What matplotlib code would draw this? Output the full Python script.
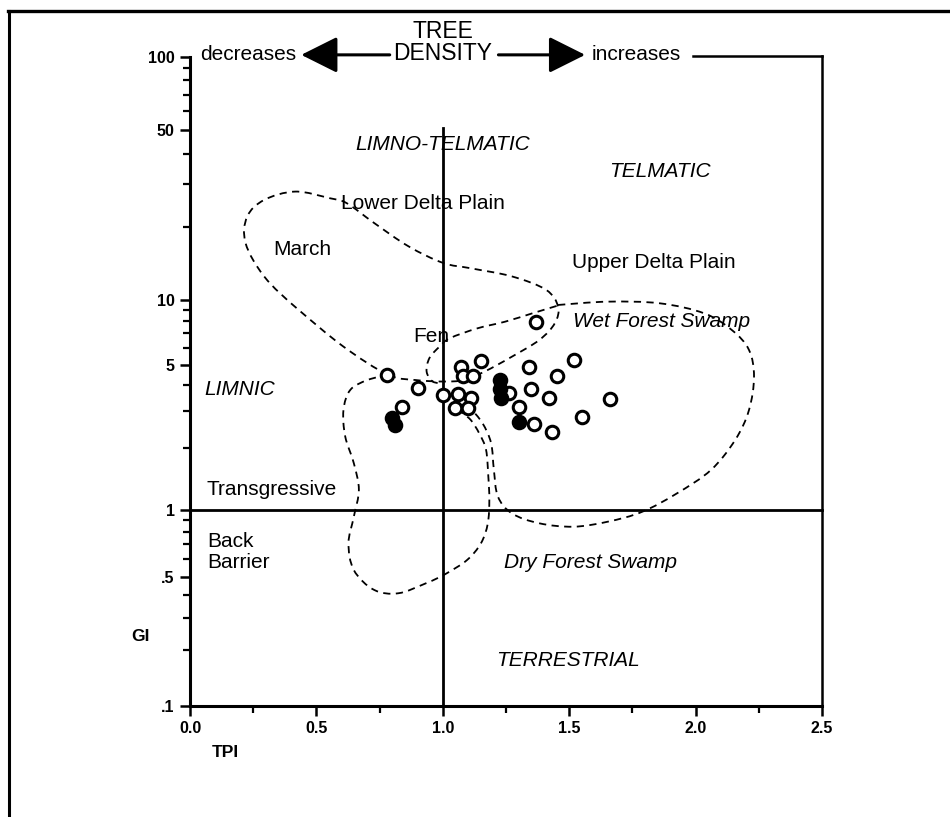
import numpy as np
import matplotlib
matplotlib.use('Agg')
import matplotlib.pyplot as plt
from matplotlib.path import Path
from matplotlib.patches import PathPatch
from matplotlib.lines import Line2D
from matplotlib.ticker import FixedLocator, FixedFormatter, NullFormatter

plt.rcParams['font.family'] = ['Liberation Sans', 'DejaVu Sans']

# samples (TPI, GI)
open_tpi = [0.78, 0.90, 0.84, 1.00, 1.07, 1.08, 1.12, 1.15, 1.06, 1.11, 1.05, 1.10,
            1.37, 1.34, 1.52, 1.45, 1.35, 1.42, 1.66, 1.30, 1.36, 1.55, 1.43, 1.26]
open_gi = [4.48, 3.88, 3.14, 3.58, 4.89, 4.43, 4.43, 5.22, 3.62, 3.47, 3.10, 3.10,
           7.91, 4.89, 5.27, 4.43, 3.83, 3.47, 3.43, 3.14, 2.60, 2.81, 2.38, 3.66]
filled_tpi = [0.80, 0.81, 1.225, 1.228, 1.23, 1.30]
filled_gi = [2.78, 2.57, 4.23, 3.83, 3.47, 2.66]

# facies outlines
march_tpi = [0.784, 0.607, 0.430, 0.294, 0.220, 0.226, 0.294, 0.417, 0.553, 0.620, 0.729,
             0.865, 1.001, 1.110, 1.273, 1.409, 1.456, 1.443, 1.382, 1.273, 1.164, 1.083,
             1.001, 0.892]
march_gi = [4.48, 6.08, 8.99, 12.47, 17.1, 22.0, 25.8, 27.9, 26.2, 25.0, 20.7,
            16.6, 14.2, 13.5, 12.5, 11.0, 9.31, 7.80, 6.53, 5.46, 4.64, 4.23,
            4.16, 4.23]
fen_tpi = [1.450, 1.354, 1.246, 1.137, 1.028, 0.987, 0.947, 0.936, 0.960, 1.001]
fen_gi = [9.38, 8.67, 7.93, 7.39, 6.65, 6.08, 5.38, 4.64, 4.16, 4.08]
wet_tpi = [1.456, 1.653, 1.858, 2.034, 2.143, 2.211, 2.231, 2.211, 2.157, 2.061, 1.925,
           1.790, 1.653, 1.517, 1.382, 1.273, 1.218, 1.202, 1.191, 1.157, 1.110]
wet_gi = [9.48, 9.82, 9.65, 8.67, 7.26, 5.87, 4.39, 3.03, 2.18, 1.56, 1.20,
          0.983, 0.886, 0.841, 0.871, 0.966, 1.16, 1.56, 2.10, 2.62, 3.09]
back_tpi = [0.784, 0.702, 0.634, 0.607, 0.614, 0.648, 0.668, 0.648, 0.627, 0.648, 0.729,
            0.824, 0.933, 1.015, 1.096, 1.151, 1.178, 1.184, 1.180, 1.171, 1.144, 1.110,
            1.069]
back_gi = [4.48, 4.23, 3.79, 3.03, 2.26, 1.68, 1.25, 0.933, 0.709, 0.537, 0.425,
           0.408, 0.462, 0.519, 0.596, 0.709, 0.871, 1.12, 1.45, 1.95, 2.34, 2.72,
           2.98]

labels = [
    ('LIMNO-TELMATIC', 1.0, 43.4, 'italic'),
    ('TELMATIC', 1.859, 33.6, 'italic'),
    ('Lower Delta Plain', 0.922, 25.0, 'normal'),
    ('March', 0.443, 16.1, 'normal'),
    ('Upper Delta Plain', 1.835, 14.2, 'normal'),
    ('Wet Forest Swamp', 1.867, 7.91, 'italic'),
    ('Fen', 0.953, 6.75, 'normal'),
    ('LIMNIC', 0.198, 3.79, 'italic'),
    ('Transgressive', 0.324, 1.25, 'normal'),
    ('Dry Forest Swamp', 1.586, 0.578, 'italic'),
    ('TERRESTRIAL', 1.495, 0.177, 'italic'),
]

ytick_major = [0.1, 0.5, 1, 5, 10, 50, 100]
ytick_labels = ['.1', '.5', '1', '5', '10', '50', '100']
ytick_minor = [0.2, 0.3, 0.4, 0.6, 0.7, 0.8, 0.9, 2, 3, 4, 6, 7, 8, 9,
               20, 30, 40, 60, 70, 80, 90]
xtick_major = [0.0, 0.5, 1.0, 1.5, 2.0, 2.5]
xtick_minor = [0.25, 0.75, 1.25, 1.75, 2.25]

# the printed log axis is not evenly spaced: decade heights follow the original ticks
log_knots = [-3, -1, -0.301, 0, 0.699, 1, 1.699, 2, 4]
height_knots = [-392, 0, 129, 196, 341, 406, 576, 649, 1135]


def fwd(y):
    return np.interp(np.log10(np.maximum(y, 1e-300)), log_knots, height_knots)


def inv(h):
    return 10 ** np.interp(h, height_knots, log_knots)


def outline(xs, ys, closed):
    # smooth curve through the traced points (bezier in x / log y space)
    p = np.column_stack([xs, np.log10(ys)])
    if closed:
        pts = np.vstack([p[-1], p, p[0], p[1]])
    else:
        pts = np.vstack([p[0], p, p[-1]])
    verts = [pts[1]]
    codes = [Path.MOVETO]
    for i in range(1, len(pts) - 2):
        p0, p1, p2, p3 = pts[i - 1], pts[i], pts[i + 1], pts[i + 2]
        verts += [p1 + (p2 - p0) / 6, p2 - (p3 - p1) / 6, p2]
        codes += [Path.CURVE4] * 3
    v = np.array(verts)
    v[:, 1] = 10 ** v[:, 1]
    return Path(v, codes)


fig = plt.figure(figsize=(9.5, 8.17), dpi=100)
ax = fig.add_axes([0.2, 0.1359, 0.6653, 0.7944])
ax.set_yscale('function', functions=(fwd, inv))
ax.set_xlim(0, 2.5)
ax.set_ylim(0.1, 100)

for s in ['top', 'right']:
    ax.spines[s].set_visible(False)
for s in ['left', 'bottom']:
    ax.spines[s].set_linewidth(2.2)

ax.yaxis.set_major_locator(FixedLocator(ytick_major))
ax.yaxis.set_major_formatter(FixedFormatter(ytick_labels))
ax.yaxis.set_minor_locator(FixedLocator(ytick_minor))
ax.yaxis.set_minor_formatter(NullFormatter())
ax.set_xticks(xtick_major)
ax.set_xticklabels(['%.1f' % v for v in xtick_major])
ax.set_xticks(xtick_minor, minor=True)
ax.tick_params(which='major', direction='out', length=7, width=1.8,
               labelsize=11.5, pad=4)
ax.tick_params(which='minor', direction='out', length=5, width=1.6)
for t in ax.get_xticklabels() + ax.get_yticklabels():
    t.set_fontweight('bold')

# quadrant lines and frame pieces
top_y = 101
ax.plot([1, 1], [0.1, 51], color='k', lw=2, clip_on=False)
ax.plot([0, 2.5], [1, 1], color='k', lw=2, clip_on=False)
ax.plot([2.5, 2.5], [0.1, top_y], color='k', lw=1.8, clip_on=False)
ax.plot([1.99, 2.5], [top_y, top_y], color='k', lw=1.8, clip_on=False)

# outlines
for xs, ys, closed in [(march_tpi, march_gi, True), (fen_tpi, fen_gi, False),
                       (wet_tpi, wet_gi, False), (back_tpi, back_gi, False)]:
    ax.add_patch(PathPatch(outline(xs, ys, closed), fill=False, edgecolor='k',
                           lw=1.3, linestyle=(0, (4, 3)), clip_on=False))

ax.plot(open_tpi, open_gi, 'o', ms=9, mfc='white', mec='k', mew=2.2, zorder=5)
ax.plot(filled_tpi, filled_gi, 'o', ms=9, mfc='k', mec='k', mew=2.2, zorder=5)

for txt, x, y, style in labels:
    ax.text(x, y, txt, ha='center', va='center', fontsize=15, style=style, zorder=6)
ax.text(0.067, 0.718, 'Back', ha='left', va='center', fontsize=15)
ax.text(0.067, 0.578, 'Barrier', ha='left', va='center', fontsize=15)

# tree density header
ax.text(1.0, 126.7, 'TREE', ha='center', va='center', fontsize=16.5, clip_on=False)
ax.text(1.0, 103.8, 'DENSITY', ha='center', va='center', fontsize=16.5, clip_on=False)
ax.text(0.23, 102, 'decreases', ha='center', va='center', fontsize=15, clip_on=False)
ax.text(1.764, 102, 'increases', ha='center', va='center', fontsize=15, clip_on=False)
arrow = dict(arrowstyle='-|>,head_length=0.9,head_width=0.45', lw=2.2, color='k',
             mutation_scale=25, shrinkA=0, shrinkB=0)
ax.annotate('', xy=(0.44, 102), xytext=(0.79, 102), arrowprops=arrow,
            annotation_clip=False)
ax.annotate('', xy=(1.563, 102), xytext=(1.22, 102), arrowprops=arrow,
            annotation_clip=False)

ax.text(-0.198, 0.237, 'GI', ha='center', va='center', fontsize=12.5,
        fontweight='bold', clip_on=False)
ax.text(0.138, 0.058, 'TPI', ha='center', va='center', fontsize=12.5,
        fontweight='bold', clip_on=False)

# page frame
fig.add_artist(Line2D([0.0095, 0.0095], [0, 0.987], transform=fig.transFigure,
                      color='k', lw=2.2))
fig.add_artist(Line2D([0.0085, 1], [0.987, 0.987], transform=fig.transFigure,
                      color='k', lw=2.4))

fig.savefig('out.png', dpi=100)
